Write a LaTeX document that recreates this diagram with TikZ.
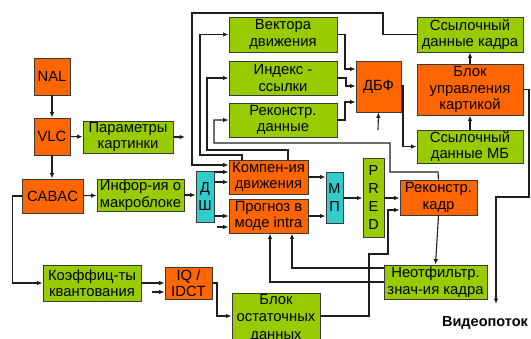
\documentclass[tikz,border=0pt]{standalone}
\usepackage{fontspec}
\setmainfont{Liberation Sans}
\usetikzlibrary{arrows.meta}
\definecolor{org}{HTML}{FF6600}
\definecolor{grn}{HTML}{99CC00}
\definecolor{cyn}{HTML}{33CCCC}
\definecolor{edge}{HTML}{3A3A3A}
\definecolor{wirec}{HTML}{1E1E1E}

\begin{document}
\begin{tikzpicture}[x=1pt,y=-1pt,
  box/.style={draw=edge, line width=0.8pt, inner sep=0pt, align=center,
    font=\fontsize{14.8}{16.5}\selectfont},
  obox/.style={box, fill=org},
  gbox/.style={box, fill=grn},
  cbox/.style={box, fill=cyn},
  tall/.style={font=\fontsize{14.5}{18}\selectfont},
  wire/.style={draw=wirec, line width=1.1pt},
  arr/.style={wire, -{Latex[length=5.5pt,width=4.5pt]}},
]
\useasboundingbox (0,0) rectangle (531,338);
\clip (0,0) rectangle (531,338);

% decoder front end
\node[obox, minimum width=36pt, minimum height=37pt] (nal) at (52,76.5) {NAL};
\node[obox, minimum width=36pt, minimum height=37pt] (vlc) at (52,136.5) {VLC};
\node[gbox, minimum width=90pt, minimum height=32pt] (param) at (128,137) {Параметры\\картинки};
\node[obox, minimum width=61pt, minimum height=34pt] (cabac) at (52.5,196) {CABAC};
\node[gbox, minimum width=87pt, minimum height=32pt] (info) at (140.5,195) {Инфор-ия о\\макроблоке};
\node[gbox, minimum width=98pt, minimum height=36pt] (koef) at (92,283) {Коэффиц-ты\\квантования};
\node[obox, minimum width=47pt, minimum height=32pt] (iq) at (188.5,283) {IQ /\\IDCT};
\node[gbox, minimum width=88pt, minimum height=50pt, font=\fontsize{14.8}{17.5}\selectfont] (ost) at (276,318) {Блок\\остаточных\\данных};

% prediction
\node[cbox, tall, minimum width=18pt, minimum height=51pt] (dsh) at (205,196.5) {Д\\Ш};
\node[obox, minimum width=79pt, minimum height=34pt] (komp) at (268.5,177) {Компен-ия\\движения};
\node[obox, minimum width=79pt, minimum height=34pt] (prog) at (268.5,216) {Прогноз в\\моде intra};
\node[cbox, tall, minimum width=17pt, minimum height=51pt] (mp) at (334.5,197.5) {М\\П};
\node[gbox, tall, minimum width=21pt, minimum height=79pt] (pred) at (373.5,197.5) {P\\R\\E\\D};
\node[obox, minimum width=77pt, minimum height=35pt] (rekadr) at (438.5,197.5) {Реконстр.\\кадр};
\node[gbox, minimum width=103pt, minimum height=34pt] (neotf) at (435.5,282) {Неотфильтр.\\знач-ия кадра};

% deblocking part
\node[gbox, minimum width=108pt, minimum height=35pt] (vec) at (283,34.5) {Вектора\\движения};
\node[gbox, minimum width=108pt, minimum height=34pt] (idx) at (283,78) {Индекс -\\ссылки};
\node[gbox, minimum width=108pt, minimum height=34pt] (rdata) at (283,120) {Реконстр.\\данные};
\node[obox, minimum width=45pt, minimum height=51pt] (dbf) at (378.5,86.5) {ДБФ};
\node[gbox, minimum width=106pt, minimum height=35pt] (refkadr) at (470,34.5) {Ссылочный\\данные кадра};
\node[obox, minimum width=106pt, minimum height=51pt] (upr) at (470,89.5) {Блок\\управления\\картикой};
\node[gbox, minimum width=106pt, minimum height=33pt] (refmb) at (470,146.5) {Ссылочный\\данные МБ};

\node[font=\fontsize{14.5}{16}\selectfont\bfseries, inner sep=0pt] (video) at (485,323) {Видеопоток};

% free ends of stub arrows
\coordinate (pend) at (185,137);
\coordinate (iqin) at (152,292);
\coordinate (progin) at (217,227);
\coordinate (dbfin) at (378,130);
\coordinate (vend) at (496,304);

% front-end connectors
\draw[arr] (nal) -- (vlc);
\draw[arr] (vlc) -- (param);
\draw[arr] (param.east) -- (pend);
\draw[arr] (vlc.south) -- (vlc.south |- cabac.north);
\draw[arr] (cabac) -- (info);
\draw[arr] (info.east) -- (info.east -| dsh.west);
\draw[arr] (cabac.west) -- ++(-9,0) |- (koef.west);
\draw[arr] (koef.east) -- (koef.east -| iq.west);
\draw[arr] (iqin) -- (iqin -| iq.west);
\draw[arr] (iq.east) -- (217,283) |- (ost.west |- 0,316);

% into prediction blocks
\draw[arr] (dsh.east |- 0,172) -- (komp.west |- 0,172);
\draw[arr] (dsh.east |- 0,182) -- (komp.west |- 0,182);
\draw[arr] (dsh.east |- 0,216) -- (prog.west |- 0,216);
\draw[arr] (progin) -- (progin -| prog.west);
\draw[arr] (komp.east) -- (komp.east -| mp.west);
\draw[arr] (prog.east) -- (prog.east -| mp.west);
\draw[arr] (mp.east |- 0,198) -- (pred.west |- 0,198);
\draw[arr] (pred.east |- 0,198) -- (rekadr.west |- 0,198);
\draw[arr] (rekadr.south) -- (neotf.north);

% unfiltered frame back to intra prediction
\draw[arr] (neotf.west |- 0,268) -| (prog.south -| 292,0);
\draw[arr] (neotf.west |- 0,282) -| (prog.south -| 270,0);
\fill[wirec] (369,282) circle (1.3pt);

% residual path
\draw[arr] (ost.east |- 0,316) -- (369,316) -- (369,254) -- (388,254) |- (rekadr.west |- 0,210);

% feedback loops
\draw[arr] (refkadr.west) -- (383,34.5) -- (383,13) -- (192,13) |- (komp.west |- 0,165);
\draw[arr] (komp.north -| 242,0) -- (242,155) -- (200,155) |- (vec.west);
\draw[arr] (komp.north -| 288,0) -- (288,150) -- (207,150) |- (idx.west);
\draw[arr] (rekadr.north) -- (438,172) -- (390,172) -- (390,143) -- (214,143) |- (rdata.west);

% into the deblocking filter
\draw[arr] (vec.east) -- (345,34.5) |- (dbf.west |- 0,69);
\draw[arr] (idx.east) -- (346,78) |- (dbf.west |- 0,86);
\draw[arr] (rdata.east) -- (345,120) |- (dbf.west |- 0,102);
\draw[arr] (dbfin) -- (dbf.south);
\draw[arr] (dbf.east |- 0,86) -- (403,86) |- (refmb.west);
\draw[arr] (refmb) -- (upr);
\draw[arr] (upr) -- (refkadr);
\draw[arr] (upr.east) -- (529,89.5) -- (529,197) -- (496,197) -- (vend);
\end{tikzpicture}
\end{document}
